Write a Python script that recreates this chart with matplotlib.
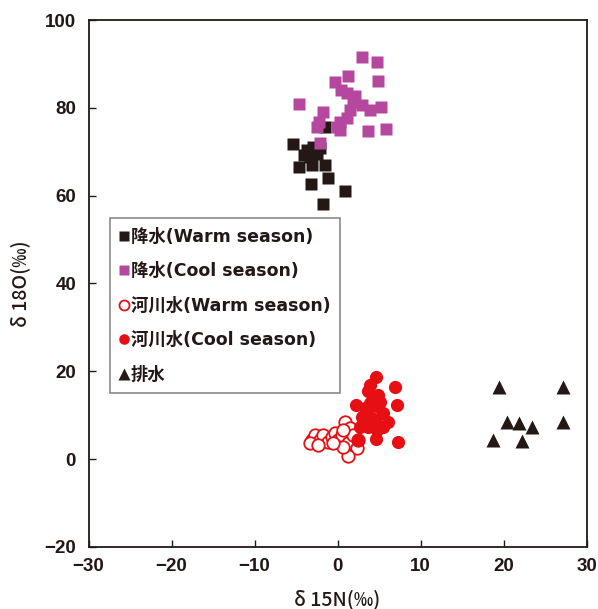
import matplotlib
matplotlib.use('Agg')
import matplotlib.pyplot as plt

plt.rcParams['font.family'] = ['Noto Sans CJK JP', 'DejaVu Sans']

# precipitation, warm season
rain_warm_x = [-1.5, -5.4, -3.7, -2.9, -2.1, -4.1, -3.3, -2.5, -4.7, -3.1, -1.5, -3.2, -1.1, 0.9, -1.8]
rain_warm_y = [75.7, 71.7, 70.4, 71.2, 70.8, 69.3, 68.9, 69.6, 66.6, 67.0, 67.0, 62.7, 64.0, 61.1, 58.0]

# precipitation, cool season
rain_cool_x = [3.0, 4.7, 4.9, 1.2, -0.3, 0.4, 1.1, 2.1, -4.6, 2.9, 3.9, 5.2, 1.5, -1.7,
               1.1, 0.3, -2.2, -2.5, 0.3, 3.7, 5.8, -2.1, 1.9, -0.1]
rain_cool_y = [91.5, 90.4, 86.2, 87.3, 85.9, 84.1, 83.3, 82.7, 80.9, 80.6, 79.5, 80.3, 79.5, 79.1,
               77.6, 76.8, 76.8, 75.6, 75.0, 74.7, 75.1, 72.1, 81.4, 75.7]

# river water, warm season
river_warm_x = [-3.1, -2.7, -2.1, -1.7, -1.1, -0.7, -0.3, 0.1, 0.5, 0.9, 1.5, 1.3, 2.3, 1.3,
                0.7, -3.3, -2.3, 1.9, 0.7, 2.5, -0.5]
river_warm_y = [4.4, 5.5, 4.4, 5.5, 4.0, 5.1, 5.9, 4.4, 5.5, 8.5, 7.0, 3.6, 2.5, 0.6,
                2.8, 3.6, 3.2, 5.5, 6.6, 4.4, 3.6]

# river water, cool season
river_cool_x = [4.6, 3.9, 6.9, 3.7, 4.9, 2.2, 7.1, 3.9, 4.7, 3.5, 5.5, 2.9, 4.5, 6.1, 3.7,
                4.7, 4.6, 7.3, 2.5, 4.1, 3.3, 5.1, 4.3, 2.7, 5.5]
river_cool_y = [18.6, 16.9, 16.4, 15.4, 14.6, 12.3, 12.3, 12.7, 12.0, 10.4, 10.4, 9.7, 8.9, 8.5, 7.4,
                6.7, 4.5, 4.0, 4.4, 9.3, 11.6, 13.1, 13.9, 7.4, 7.4]

# drainage
drain_x = [19.5, 27.1, 20.4, 21.9, 23.4, 27.1, 18.7, 22.2]
drain_y = [16.5, 16.5, 8.5, 8.3, 7.4, 8.5, 4.4, 4.2]

fig = plt.figure(figsize=(5.98, 6.09), dpi=100)
ax = fig.add_axes([0.148, 0.102, 0.833, 0.865])

ax.plot(rain_warm_x, rain_warm_y, 's', color='#231815', ms=8.5, mec='none', label='降水(Warm season)')
ax.plot(rain_cool_x, rain_cool_y, 's', color='#b5489e', ms=8.5, mec='none', label='降水(Cool season)')
ax.plot(river_warm_x, river_warm_y, 'o', mfc='white', mec='#e60f13', mew=1.3, ms=9, label='河川水(Warm season)')
ax.plot(river_cool_x, river_cool_y, 'o', color='#e60f13', ms=9.5, mec='none', label='河川水(Cool season)')
ax.plot(drain_x, drain_y, '^', color='#231815', ms=10, mec='none', label='排水')

ax.set_xlim(-30, 30)
ax.set_ylim(-20, 100)
ax.set_xticks(range(-30, 31, 10))
ax.set_yticks(range(-20, 101, 20))
ax.set_xticklabels(['−30', '−20', '−10', '0', '10', '20', '30'])
ax.set_yticklabels(['−20', '0', '20', '40', '60', '80', '100'])
ax.tick_params(direction='in', length=5, width=1, labelsize=13.5, colors='#231815')
ax.tick_params(axis='y', pad=9)
ax.tick_params(axis='x', pad=8)
for lbl in ax.get_xticklabels() + ax.get_yticklabels():
    lbl.set_fontweight('bold')
    lbl.set_family(['Liberation Sans', 'DejaVu Sans'])
for sp in ax.spines.values():
    sp.set_linewidth(1.3)
    sp.set_color('#231815')

ax.set_xlabel('δ 15N(‰)', fontsize=14, fontweight='medium', color='#231815', labelpad=10)
ax.set_ylabel('δ 18O(‰)', fontsize=14, fontweight='medium', color='#231815', labelpad=10)

leg = ax.legend(loc='upper left', bbox_to_anchor=(0.043, 0.624),
                prop={'family': ['DejaVu Sans', 'Noto Sans CJK JP'], 'weight': 'bold', 'size': 12.5},
                handlelength=0.5, handletextpad=0.15,
                labelspacing=0.95, borderpad=0.55, borderaxespad=0, fancybox=False, framealpha=1,
                edgecolor='#8a8a8a', markerscale=0.8)
leg.get_frame().set_linewidth(1.2)
for t in leg.get_texts():
    t.set_color('#231815')

plt.savefig('out.png', dpi=100)
